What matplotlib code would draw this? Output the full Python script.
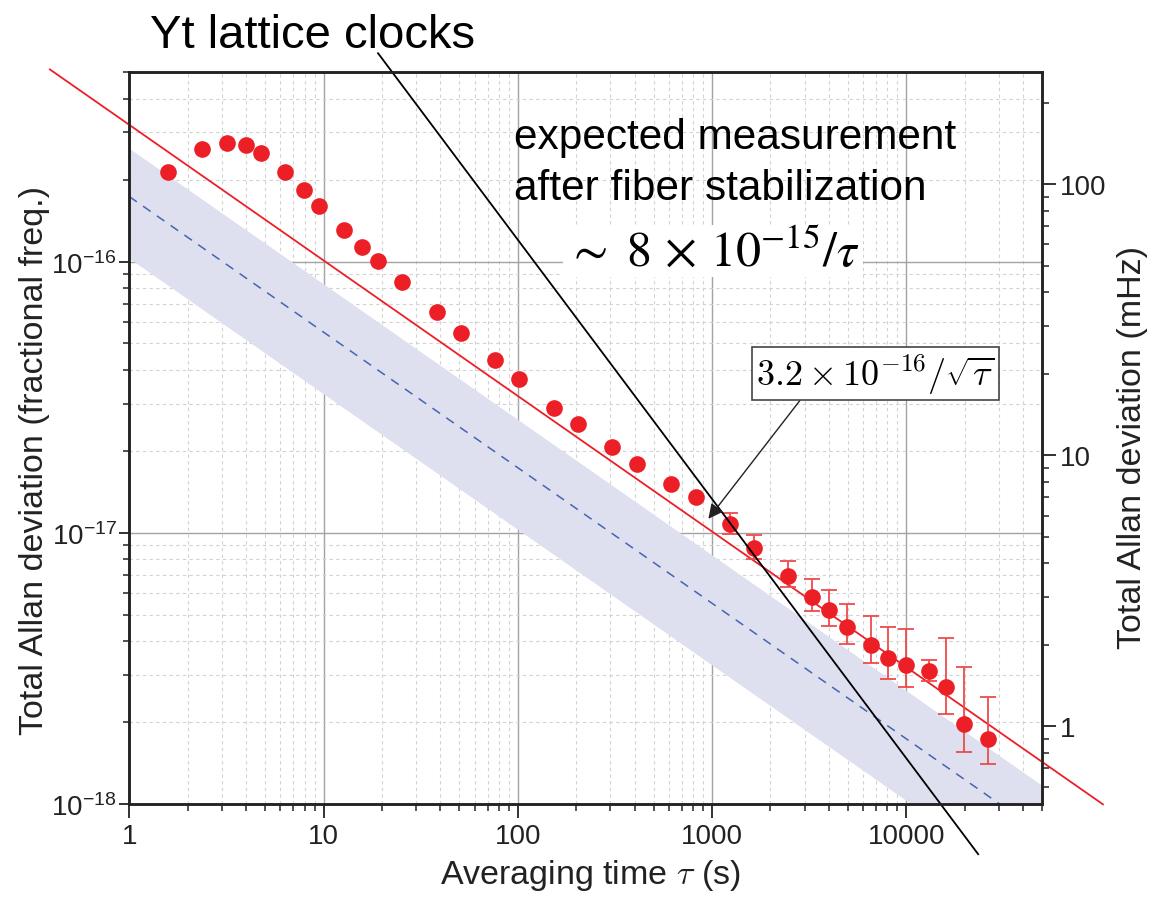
import numpy as np
import matplotlib
matplotlib.use('Agg')
import matplotlib.pyplot as plt
from matplotlib.ticker import LogLocator, NullFormatter, FuncFormatter, FixedLocator

plt.rcParams['font.family'] = ['Liberation Sans', 'DejaVu Sans']
plt.rcParams['mathtext.fontset'] = 'custom'
plt.rcParams['mathtext.rm'] = 'Liberation Sans'
plt.rcParams['mathtext.it'] = 'Liberation Sans:italic'
plt.rcParams['mathtext.bf'] = 'Liberation Sans:bold'

# ---------------- data ----------------
tau = [1.59, 2.36, 3.17, 3.98, 4.75, 6.34, 7.94, 9.52, 12.75, 15.85, 19.08,
       25.46, 38.3, 50.9, 76.7, 101.9, 153.2, 204.4, 307, 410, 613, 825,
       1239, 1648, 2456, 3288, 4022, 4945, 6572, 8040, 9950, 13160, 16050,
       19870, 26500]
adev = [2.15e-16, 2.60e-16, 2.75e-16, 2.70e-16, 2.53e-16, 2.15e-16, 1.84e-16,
        1.61e-16, 1.31e-16, 1.13e-16, 1.01e-16, 8.39e-17, 6.54e-17, 5.48e-17,
        4.35e-17, 3.68e-17, 2.90e-17, 2.52e-17, 2.07e-17, 1.79e-17, 1.51e-17,
        1.36e-17, 1.08e-17, 8.81e-18, 6.96e-18, 5.79e-18, 5.20e-18, 4.49e-18,
        3.87e-18, 3.45e-18, 3.27e-18, 3.10e-18, 2.70e-18, 1.98e-18, 1.74e-18]
# error bar bounds for the last points (tau >= ~1200 s)
err_upper = [1.186e-17, 9.84e-18, 7.91e-18, 6.77e-18, 6.18e-18, 5.47e-18,
             4.93e-18, 4.51e-18, 4.42e-18, 3.40e-18, 4.09e-18, 3.19e-18, 2.49e-18]
err_lower = [0.99e-17, 8.02e-18, 6.32e-18, 5.13e-18, 4.55e-18, 3.90e-18,
             3.31e-18, 2.89e-18, 2.71e-18, 2.85e-18, 2.15e-18, 1.56e-18, 1.41e-18]

fit_coef = 3.2e-16            # red white-frequency-noise line
fit_tau_range = [0.39, 1.03e5]
expect_coef = 1.74e-16        # blue dashed
band_upper_coef = 2.62e-16
band_lower_coef = 1.03e-16
yt_line_tau = [19.08, 23460]  # "Yt lattice clocks" line
yt_line_adev = [5.88e-16, 6.53e-19]
clock_freq_hz = 517.6e12

xlim = (1, 5e4)
ylim = (1e-18, 5e-16)
x_ticks = [1, 10, 100, 1000, 10000]
y_ticks = [1e-18, 1e-17, 1e-16]
y_tick_labels = [r'10$^{\mathregular{-18}}$', r'10$^{\mathregular{-17}}$', r'10$^{\mathregular{-16}}$']
right_ticks = [1, 10, 100]

RED = '#ec1f27'
ERR = '#ef4a4a'
BAND = '#dee0f0'
BLUE = '#4663b3'
DARK = '#222222'

W, H = 1156, 904
fig = plt.figure(figsize=(W / 100, H / 100), dpi=100)
L, R, T, B = 129.3, 1042.0, 73.3, 805.0
ax = fig.add_axes([L / W, 1 - B / H, (R - L) / W, (B - T) / H])
ax.set_xscale('log')
ax.set_yscale('log')
ax.set_xlim(*xlim)
ax.set_ylim(*ylim)

# grid
ax.set_axisbelow(True)
ax.grid(True, which='major', color='#a3a3a3', lw=1.0)
ax.grid(True, which='minor', color='#d2d2d2', lw=0.8, ls=(0, (3, 3)))

# band and dashed expectation line
tt = np.logspace(0, np.log10(xlim[1]), 200)
ax.fill_between(tt, band_lower_coef / np.sqrt(tt), band_upper_coef / np.sqrt(tt),
                color=BAND, lw=0, zorder=1)
ax.plot(tt, expect_coef / np.sqrt(tt), color=BLUE, lw=1.1, ls=(0, (6, 5)), zorder=2)

# red fit line (extends beyond axes)
tf = np.logspace(np.log10(fit_tau_range[0]), np.log10(fit_tau_range[1]), 200)
ax.plot(tf, fit_coef / np.sqrt(tf), color=RED, lw=1.3, zorder=3, clip_on=False)

# data
tau_a = np.array(tau)
adev_a = np.array(adev)
n_err = len(err_upper)
ax.errorbar(tau_a[-n_err:], adev_a[-n_err:],
            yerr=[adev_a[-n_err:] - np.array(err_lower), np.array(err_upper) - adev_a[-n_err:]],
            fmt='none', ecolor=ERR, elinewidth=1.3, capsize=5.5, capthick=1.3, zorder=4)
ax.plot(tau_a, adev_a, 'o', color=RED, ms=12, mec='none', zorder=5)

# black "Yt lattice clocks" line
ax.plot(yt_line_tau, yt_line_adev, color='black', lw=1.3, clip_on=False, zorder=6)

# ticks
ax.xaxis.set_major_locator(FixedLocator(x_ticks))
ax.xaxis.set_major_formatter(FuncFormatter(lambda v, p: f'{v:g}'))
ax.xaxis.set_minor_locator(LogLocator(base=10, subs=np.arange(2, 10)))
ax.xaxis.set_minor_formatter(NullFormatter())
ax.yaxis.set_major_locator(FixedLocator(y_ticks))
ax.set_yticklabels(y_tick_labels)
ax.yaxis.set_minor_locator(LogLocator(base=10, subs=np.arange(2, 10)))
ax.yaxis.set_minor_formatter(NullFormatter())
ax.tick_params(which='major', direction='out', length=10, width=1.3,
               labelsize=20, colors=DARK, top=False, right=False, pad=4)
ax.tick_params(which='minor', direction='out', length=5, width=1.1,
               colors=DARK, top=False, right=False)
ax.tick_params(axis='y', which='major', length=7, pad=2)
ax.tick_params(axis='y', which='minor', length=4)
for s in ax.spines.values():
    s.set_linewidth(1.8)
    s.set_color(DARK)

# right axis (mHz)
ax2 = ax.twinx()
ax2.set_yscale('log')
ax2.set_ylim(ylim[0] * clock_freq_hz / 1e-3, ylim[1] * clock_freq_hz / 1e-3)
ax2.yaxis.set_major_locator(FixedLocator(right_ticks))
ax2.yaxis.set_major_formatter(FuncFormatter(lambda v, p: f'{v:g}'))
ax2.yaxis.set_minor_locator(LogLocator(base=10, subs=np.arange(2, 10)))
ax2.yaxis.set_minor_formatter(NullFormatter())
ax2.tick_params(which='major', direction='out', length=10, width=1.3,
                labelsize=20, colors=DARK, pad=3)
ax2.tick_params(which='minor', direction='out', length=5, width=1.1, colors=DARK)
for s in ax2.spines.values():
    s.set_linewidth(1.8)
    s.set_color(DARK)

# axis labels
ax.set_ylabel('Total Allan deviation (fractional freq.)', fontsize=24.5, color=DARK)
ax.yaxis.set_label_coords((50 - L) / (R - L), (B - 461) / (B - T))
ax2.set_ylabel('Total Allan deviation (mHz)', fontsize=24.5, color=DARK)
ax2.yaxis.set_label_coords((1117 - L) / (R - L), (B - 448) / (B - T))
ax.set_xlabel(r'Averaging time $\tau\ $(s)', fontsize=24.5, color=DARK, math_fontfamily='cm')
ax.xaxis.set_label_coords((590.5 - L) / (R - L), (B - 858) / (B - T))

# annotations
fig.text(150 / W, 1 - 48 / H, 'Yt lattice clocks', fontsize=34, va='baseline', ha='left')
fig.text(514 / W, 1 - 149 / H, 'expected measurement', fontsize=30.5, va='baseline', ha='left')
fig.text(514 / W, 1 - 200 / H, 'after fiber stabilization', fontsize=30.5, va='baseline', ha='left')
fig.text(713 / W, 1 - 252 / H, r'$\sim\ 8\,\times\,10^{-15}/\tau$', fontsize=36,
         math_fontfamily='stix', ha='center', va='center',
         bbox=dict(facecolor='white', edgecolor='none', pad=2))

ax.annotate(r'$3.2\times10^{-16}/\sqrt{\tau}$', xy=(958, 1.127e-17), xytext=(6918, 3.87e-17),
            textcoords='data', ha='center', va='center', fontsize=26, math_fontfamily='cm',
            bbox=dict(boxstyle='square,pad=0.12', fc='white', ec='#444444', lw=1.2),
            arrowprops=dict(arrowstyle='-|>', color=DARK, lw=1.0, mutation_scale=22,
                            shrinkA=0, shrinkB=0, relpos=(0.2, 0)),
            zorder=7)

fig.savefig('out.png', dpi=100)
